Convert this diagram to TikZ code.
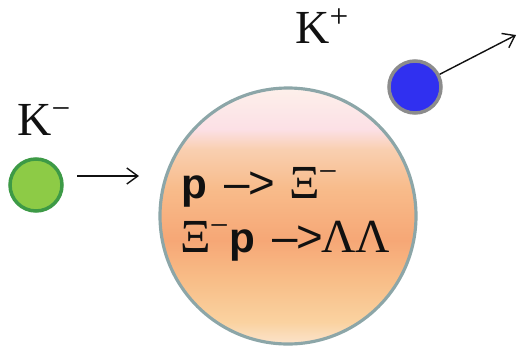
\documentclass[tikz,border=0pt]{standalone}
\usepackage{fontspec}
\setmainfont{Liberation Serif}
\newfontfamily\labelsans{Liberation Sans}
\usetikzlibrary{arrows.meta}
\definecolor{ink}{HTML}{111111}
\definecolor{rim}{HTML}{8CA6A8}
\definecolor{nucA}{HTML}{FBE3CB}
\definecolor{nucB}{HTML}{FAD2A0}
\definecolor{nucC}{HTML}{F8BE88}
\definecolor{nucD}{HTML}{F6A776}
\definecolor{nucE}{HTML}{F8BB8A}
\definecolor{nucF}{HTML}{F9CFB0}
\definecolor{nucG}{HTML}{FCE0E6}
\definecolor{nucH}{HTML}{FDF0EA}
\definecolor{kmfill}{HTML}{8DCB46}
\definecolor{kmrim}{HTML}{3D9A46}
\definecolor{kpfill}{HTML}{3030F0}
\definecolor{kprim}{HTML}{8C8C8C}
% tikz maps the path onto 25bp..75bp of the shading
\pgfdeclareverticalshading{nucshade}{100bp}{color(0bp)=(nucA); color(25bp)=(nucA);
  color(29.35bp)=(nucB); color(37.3bp)=(nucC); color(45.25bp)=(nucD);
  color(55.15bp)=(nucE); color(63bp)=(nucF); color(67bp)=(nucG);
  color(75bp)=(nucH); color(100bp)=(nucH)}
\tikzset{
  nucleus/.style={circle, draw=rim, line width=1.8pt, minimum size=256*0.02cm,
                  shading=nucshade, inner sep=0pt},
  meson/.style={circle, line width=2pt, minimum size=52*0.02cm, inner sep=0pt},
  plabel/.style={font=\fontsize{27}{30}\selectfont, text=ink, inner sep=0pt, anchor=base west},
  react/.style={font=\fontsize{27}{30}\selectfont, text=ink, inner sep=0pt, anchor=base west},
  move/.style={-{Straight Barb[length=2.2mm,width=3.2mm]}, line width=0.8pt, draw=ink},
}
\newcommand{\bp}{{\fontsize{24}{30}\selectfont\bfseries\labelsans p}}
\newcommand{\ar}{{\fontsize{26}{30}\selectfont\labelsans –\kern-1pt>}}
\newcommand{\xim}{Ξ\textsuperscript{\kern-0.5pt−}}

\begin{document}
\begin{tikzpicture}[x=0.02cm,y=-0.02cm]
\useasboundingbox (0,0) rectangle (517,349);
  % nucleus
  \node[nucleus] (nuc) at (288,216) {};
  \node[react] (rxone) at (181,198) {\bp\hspace{10pt}\ar\hspace{8pt}\xim};
  \node[react] (rxtwo) at (180,252) {\xim\bp\hspace{10pt}\ar\kern-1ptΛΛ};
  % incoming K-
  \node[meson, fill=kmfill, draw=kmrim] (kminus) at (36,185) {};
  \node[plabel] (kmlab) at (17,135) {K\textsuperscript{−}};
  \coordinate (inStart) at (77,176);
  \coordinate (inEnd) at (139,176);
  \draw[move] (inStart) -- (inEnd);
  % outgoing K+
  \node[meson, fill=kpfill, draw=kprim] (kplus) at (415,87) {};
  \node[plabel] (kplab) at (295,43) {K\textsuperscript{+}};
  \coordinate (outEnd) at (516,35);
  \draw[move] (kplus) -- (outEnd);
\end{tikzpicture}
\end{document}
